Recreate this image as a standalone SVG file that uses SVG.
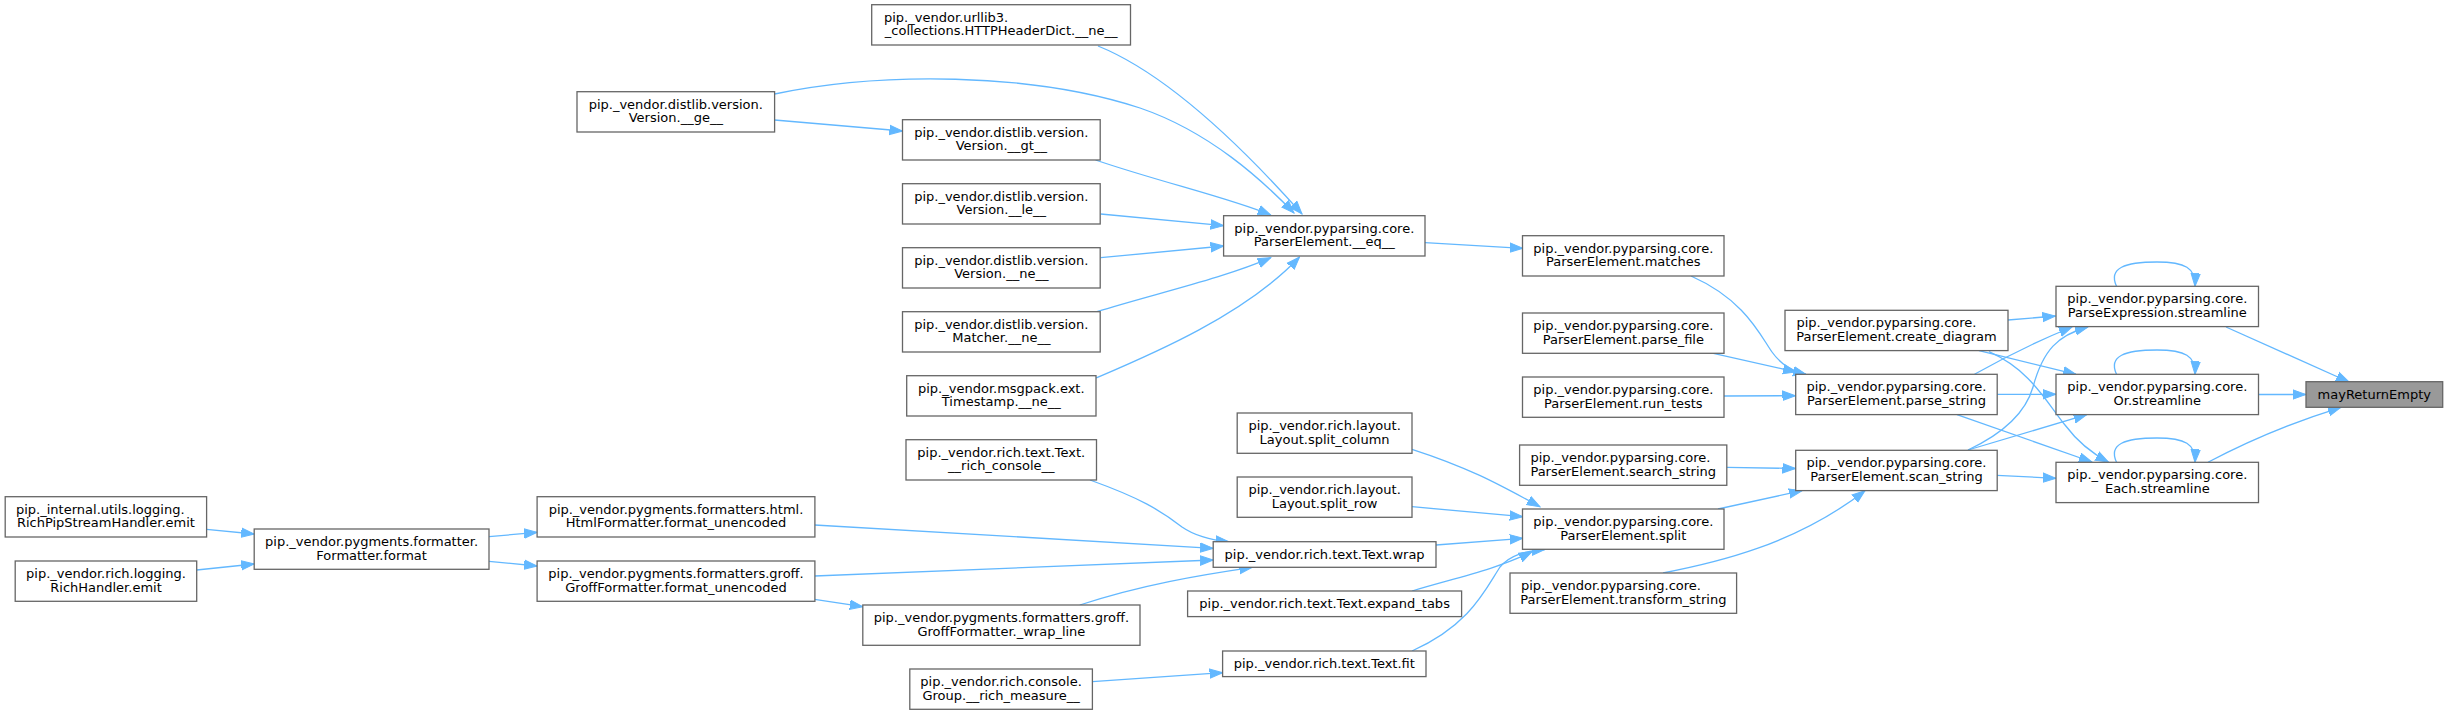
<svg xmlns="http://www.w3.org/2000/svg" width="2448" height="715" viewBox="0 0 2448 715">
<style>
.node rect{fill:#ffffff;stroke:#666666;stroke-width:1.3}
.node.hl rect{fill:#999999}
text{font-family:"DejaVu Sans","Liberation Sans",sans-serif;font-size:13px;fill:#000000}
.c{text-anchor:middle}
.s{text-anchor:start}
.edges path{fill:none;stroke:#63b8ff;stroke-width:1.3;marker-end:url(#ah)}
</style>
<defs>
<marker id="ah" markerUnits="userSpaceOnUse" markerWidth="14" markerHeight="12" refX="13" refY="0" viewBox="0 -6 14 12" orient="auto">
<path d="M0,-4.7 L13,0 L0,4.7 z" fill="#63b8ff" stroke="#63b8ff" stroke-width="1"/>
</marker>
</defs>
<rect x="0" y="0" width="2448" height="715" fill="#ffffff"/>
<g class="edges">
<path d="M2226,327 C2262,343 2305,362 2349,382"/>
<path d="M2258.5,394.5 L2305.8,394.5"/>
<path d="M2208,462.3 C2250,440 2300,420 2341,407.3"/>
<path d="M2116.5,286.3 C2108,268 2125,262 2157,262 C2185,262 2196,268 2195,286.3"/>
<path d="M2116.5,374.3 C2108,356 2125,350 2157,350 C2185,350 2196,356 2195,374.3"/>
<path d="M2116.5,462.3 C2108,444 2125,438 2157,438 C2185,438 2196,444 2195,462.3"/>
<path d="M2008,320 L2055.4,316"/>
<path d="M1974.5,374.3 C2000,360 2040,340 2072,327"/>
<path d="M1968,450 C2000,435 2025,415 2033,387 C2043,350 2058,335 2088,327"/>
<path d="M1979,350.7 L2076,374.3"/>
<path d="M1989,351.7 C2030,370 2045,400 2065,425 C2080,445 2095,455 2108.4,462"/>
<path d="M1997,394.3 L2056,394.3"/>
<path d="M1957,414.7 L2092,462"/>
<path d="M1968,450 L2086.7,414.7"/>
<path d="M1997,475.3 L2056,478.3"/>
<path d="M1691,276 C1745,300 1760,335 1772,352 C1782,366 1793,371 1806,374.3"/>
<path d="M1713.4,353.3 L1796,372"/>
<path d="M1724,396 L1795.5,395.7"/>
<path d="M1726.8,467.3 L1795.5,468.5"/>
<path d="M1718,509 L1802,490.7"/>
<path d="M1663,573 C1715,563 1795,545 1865,490.7"/>
<path d="M1425,242.7 L1522.8,248.3"/>
<path d="M1098,46 C1170,75 1245,150 1302,214"/>
<path d="M774.6,94 C880,72 1030,72 1140,108 C1210,132 1262,180 1294,213"/>
<path d="M774.6,120 L902.5,131"/>
<path d="M1095.5,160 C1160,182 1230,198 1270.7,215"/>
<path d="M1100.7,214 L1223.6,225.7"/>
<path d="M1100.7,257.7 L1223.6,246"/>
<path d="M1097,311.7 C1150,295 1225,278 1270.7,257.7"/>
<path d="M1096,378 C1150,355 1245,315 1299.5,257"/>
<path d="M1412,449.3 C1470,468 1500,485 1540,506.7"/>
<path d="M1412,506.7 L1522.8,516.7"/>
<path d="M1436,545 L1522.8,538.3"/>
<path d="M1412,591 C1455,578 1495,570 1532,551.7"/>
<path d="M1412,651 C1470,625 1485,590 1500,567 C1510,555 1525,551 1545,549.5"/>
<path d="M1090,480 C1140,498 1160,510 1182,527 C1195,536 1210,540 1228.9,541.7"/>
<path d="M814.6,525 L1213.2,548.3"/>
<path d="M814.6,576 L1213.2,560"/>
<path d="M814.6,599.3 L862.8,606.7"/>
<path d="M1079.8,605 C1140,585 1200,575 1252.4,567.3"/>
<path d="M1092.4,681.7 L1222.6,672.7"/>
<path d="M206.6,529.3 L254.2,534"/>
<path d="M196.7,570 L254.2,564"/>
<path d="M489,536.7 L537.1,532.3"/>
<path d="M489,561.3 L537.1,566"/>
</g>
<g id="n_mayReturnEmpty" class="node hl"><rect x="2306" y="381.7" width="136.7" height="25.6"/><text class="c" x="2374.3" y="398.7">mayReturnEmpty</text></g>
<g id="n_pe_streamline" class="node"><rect x="2056" y="286.3" width="202.5" height="40.3"/><text class="c" x="2157.3" y="303.3">pip._vendor.pyparsing.core.</text><text class="c" x="2157.3" y="316.8">ParseExpression.streamline</text></g>
<g id="n_or_streamline" class="node"><rect x="2056" y="374.3" width="202.5" height="40.3"/><text class="c" x="2157.3" y="391.3">pip._vendor.pyparsing.core.</text><text class="c" x="2157.3" y="404.8">Or.streamline</text></g>
<g id="n_each_streamline" class="node"><rect x="2056" y="462.3" width="202.5" height="40.3"/><text class="c" x="2157.3" y="479.3">pip._vendor.pyparsing.core.</text><text class="c" x="2157.3" y="492.8">Each.streamline</text></g>
<g id="n_create_diagram" class="node"><rect x="1785" y="310.3" width="223" height="40.3"/><text class="s" x="1796.5" y="327.3">pip._vendor.pyparsing.core.</text><text class="c" x="1896.5" y="340.8">ParserElement.create_diagram</text></g>
<g id="n_parse_string" class="node"><rect x="1795.7" y="374.3" width="201.5" height="40.3"/><text class="c" x="1896.5" y="391.3">pip._vendor.pyparsing.core.</text><text class="c" x="1896.5" y="404.8">ParserElement.parse_string</text></g>
<g id="n_scan_string" class="node"><rect x="1795.7" y="450.3" width="201.5" height="40.3"/><text class="c" x="1896.5" y="467.3">pip._vendor.pyparsing.core.</text><text class="c" x="1896.5" y="480.8">ParserElement.scan_string</text></g>
<g id="n_matches" class="node"><rect x="1522.5" y="235.7" width="201.5" height="40.3"/><text class="c" x="1623.3" y="252.7">pip._vendor.pyparsing.core.</text><text class="c" x="1623.3" y="266.2">ParserElement.matches</text></g>
<g id="n_parse_file" class="node"><rect x="1522.5" y="313" width="201.5" height="40.3"/><text class="c" x="1623.3" y="330">pip._vendor.pyparsing.core.</text><text class="c" x="1623.3" y="343.5">ParserElement.parse_file</text></g>
<g id="n_run_tests" class="node"><rect x="1522.5" y="377" width="201.5" height="40.3"/><text class="c" x="1623.3" y="394">pip._vendor.pyparsing.core.</text><text class="c" x="1623.3" y="407.5">ParserElement.run_tests</text></g>
<g id="n_search_string" class="node"><rect x="1519.6" y="445" width="207.2" height="40.3"/><text class="s" x="1530.5" y="462">pip._vendor.pyparsing.core.</text><text class="c" x="1623.2" y="475.5">ParserElement.search_string</text></g>
<g id="n_split" class="node"><rect x="1522.5" y="509" width="201.5" height="40.3"/><text class="c" x="1623.3" y="526">pip._vendor.pyparsing.core.</text><text class="c" x="1623.3" y="539.5">ParserElement.split</text></g>
<g id="n_transform_string" class="node"><rect x="1510" y="573" width="226.6" height="40.3"/><text class="s" x="1521" y="590">pip._vendor.pyparsing.core.</text><text class="c" x="1623.3" y="603.5">ParserElement.transform_string</text></g>
<g id="n_eq" class="node"><rect x="1223.6" y="215.7" width="201.4" height="40.3"/><text class="c" x="1324.3" y="232.7">pip._vendor.pyparsing.core.</text><text class="c" x="1324.3" y="246.2">ParserElement.__eq__</text></g>
<g id="n_split_column" class="node"><rect x="1237.2" y="413" width="174.8" height="40.3"/><text class="c" x="1324.6" y="430">pip._vendor.rich.layout.</text><text class="c" x="1324.6" y="443.5">Layout.split_column</text></g>
<g id="n_split_row" class="node"><rect x="1237.2" y="477" width="174.8" height="40.3"/><text class="c" x="1324.6" y="494">pip._vendor.rich.layout.</text><text class="c" x="1324.6" y="507.5">Layout.split_row</text></g>
<g id="n_wrap" class="node"><rect x="1213.2" y="541.7" width="222.8" height="25.6"/><text class="c" x="1324.6" y="558.7">pip._vendor.rich.text.Text.wrap</text></g>
<g id="n_expand_tabs" class="node"><rect x="1187.6" y="591" width="274" height="25.6"/><text class="c" x="1324.6" y="608">pip._vendor.rich.text.Text.expand_tabs</text></g>
<g id="n_fit" class="node"><rect x="1222.6" y="651" width="203.4" height="25.6"/><text class="c" x="1324.3" y="668">pip._vendor.rich.text.Text.fit</text></g>
<g id="n_http_ne" class="node"><rect x="871.7" y="4.7" width="258.8" height="40.3"/><text class="s" x="884" y="21.7">pip._vendor.urllib3.</text><text class="c" x="1001.1" y="35.2">_collections.HTTPHeaderDict.__ne__</text></g>
<g id="n_gt" class="node"><rect x="902.5" y="119.7" width="197.7" height="40.3"/><text class="c" x="1001.3" y="136.7">pip._vendor.distlib.version.</text><text class="c" x="1001.3" y="150.2">Version.__gt__</text></g>
<g id="n_le" class="node"><rect x="902.5" y="183.7" width="197.7" height="40.3"/><text class="c" x="1001.3" y="200.7">pip._vendor.distlib.version.</text><text class="c" x="1001.3" y="214.2">Version.__le__</text></g>
<g id="n_ver_ne" class="node"><rect x="902.5" y="247.7" width="197.7" height="40.3"/><text class="c" x="1001.3" y="264.7">pip._vendor.distlib.version.</text><text class="c" x="1001.3" y="278.2">Version.__ne__</text></g>
<g id="n_matcher_ne" class="node"><rect x="902.5" y="311.7" width="197.7" height="40.3"/><text class="c" x="1001.3" y="328.7">pip._vendor.distlib.version.</text><text class="c" x="1001.3" y="342.2">Matcher.__ne__</text></g>
<g id="n_timestamp_ne" class="node"><rect x="906.7" y="375.7" width="189.3" height="40.3"/><text class="c" x="1001.3" y="392.7">pip._vendor.msgpack.ext.</text><text class="c" x="1001.3" y="406.2">Timestamp.__ne__</text></g>
<g id="n_rich_console" class="node"><rect x="906" y="439.7" width="190.5" height="40.3"/><text class="c" x="1001.3" y="456.7">pip._vendor.rich.text.Text.</text><text class="c" x="1001.3" y="470.2">__rich_console__</text></g>
<g id="n_wrap_line" class="node"><rect x="862.8" y="605" width="277.2" height="40.3"/><text class="c" x="1001.4" y="622">pip._vendor.pygments.formatters.groff.</text><text class="c" x="1001.4" y="635.5">GroffFormatter._wrap_line</text></g>
<g id="n_rich_measure" class="node"><rect x="909.8" y="669" width="182.6" height="40.3"/><text class="c" x="1001.1" y="686">pip._vendor.rich.console.</text><text class="c" x="1001.1" y="699.5">Group.__rich_measure__</text></g>
<g id="n_ge" class="node"><rect x="577" y="91.7" width="197.6" height="40.3"/><text class="c" x="675.8" y="108.7">pip._vendor.distlib.version.</text><text class="c" x="675.8" y="122.2">Version.__ge__</text></g>
<g id="n_html" class="node"><rect x="537.1" y="496.7" width="277.8" height="40.3"/><text class="c" x="676" y="513.7">pip._vendor.pygments.formatters.html.</text><text class="c" x="676" y="527.2">HtmlFormatter.format_unencoded</text></g>
<g id="n_groff" class="node"><rect x="537.1" y="561" width="277.8" height="40.3"/><text class="c" x="676" y="578">pip._vendor.pygments.formatters.groff.</text><text class="c" x="676" y="591.5">GroffFormatter.format_unencoded</text></g>
<g id="n_format" class="node"><rect x="254.2" y="529" width="234.8" height="40.3"/><text class="c" x="371.6" y="546">pip._vendor.pygments.formatter.</text><text class="c" x="371.6" y="559.5">Formatter.format</text></g>
<g id="n_richpip_emit" class="node"><rect x="5.2" y="496.7" width="201.4" height="40.3"/><text class="s" x="16" y="513.7">pip._internal.utils.logging.</text><text class="c" x="105.9" y="527.2">RichPipStreamHandler.emit</text></g>
<g id="n_richhandler_emit" class="node"><rect x="15.2" y="561" width="181.5" height="40.3"/><text class="c" x="106" y="578">pip._vendor.rich.logging.</text><text class="c" x="106" y="591.5">RichHandler.emit</text></g>
</svg>
